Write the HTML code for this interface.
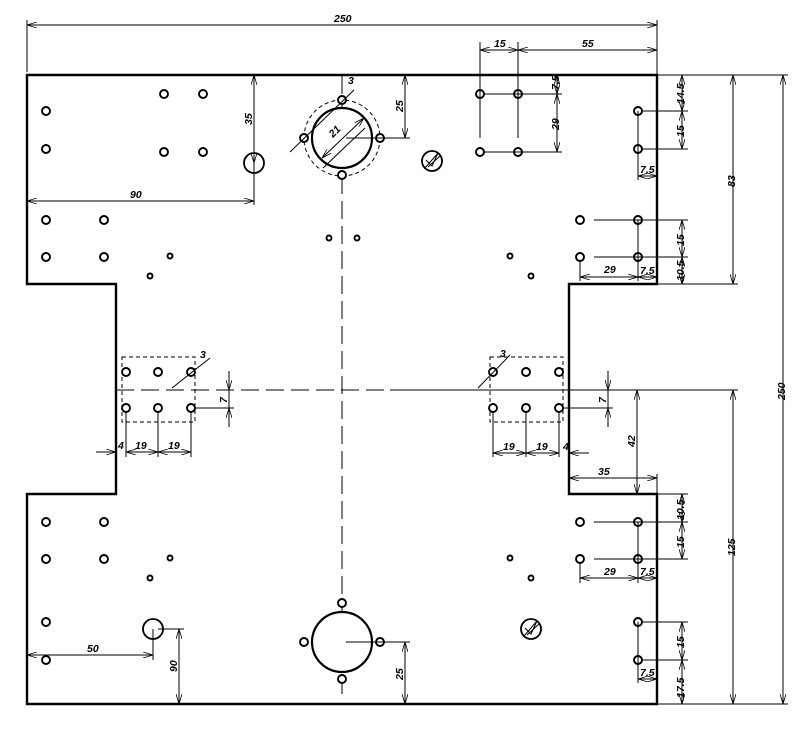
<!DOCTYPE html>
<html><head><meta charset="utf-8"><style>
html,body{margin:0;padding:0;background:#fff;}
svg{display:block;}
text{font-family:"Liberation Sans",sans-serif;font-size:10.5px;font-style:italic;fill:#000;font-weight:bold;}
</style></head><body>
<svg width="809" height="730" viewBox="0 0 809 730" xmlns="http://www.w3.org/2000/svg">
<defs>
<marker id="a" viewBox="0 0 10 6" refX="10" refY="3" markerWidth="10" markerHeight="6" markerUnits="userSpaceOnUse" orient="auto-start-reverse">
<path d="M0,0 L10,3 L0,6" fill="none" stroke="#000" stroke-width="0.8"/>
</marker>
</defs>
<path d="M27,75 H657 V284 H569 V494 H657 V704 H27 V494 H116 V284 H27 Z" fill="none" stroke="#000" stroke-width="2.4"/>
<line x1="342" y1="76" x2="342" y2="700" stroke="#000" stroke-width="1" stroke-dasharray="18,7"/>
<line x1="116" y1="390" x2="650" y2="390" stroke="#000" stroke-width="1" stroke-dasharray="18,7"/>
<g fill="none" stroke="#000" stroke-width="1">
<rect x="122" y="357" width="73" height="65" stroke-dasharray="4,3"/>
<rect x="490" y="357" width="73" height="65" stroke-dasharray="4,3"/>
<circle cx="342" cy="138" r="38" stroke-dasharray="4,3"/>
</g>
<g fill="#fff" stroke="#000" stroke-width="1.8">
<circle cx="342" cy="138" r="30" stroke-width="2.2"/>
<circle cx="342" cy="642" r="30" stroke-width="2.2"/>
<circle cx="254" cy="163" r="10"/>
<circle cx="153" cy="629" r="10"/>
<circle cx="432" cy="161" r="10"/>
<circle cx="531" cy="629" r="10"/>
</g>
<g fill="none" stroke="#000" stroke-width="1">
<path d="M425,168 L438,153 M428,167 L440,156 M426,160 L432,166 L438,153"/>
<path d="M524,636 L537,621 M527,635 L539,624 M525,628 L531,634 L537,621"/>
</g>
<g fill="#fff" stroke="#000" stroke-width="1.9">
<circle cx="46" cy="111" r="4"/><circle cx="46" cy="149" r="4"/>
<circle cx="164" cy="94" r="4"/><circle cx="203" cy="94" r="4"/>
<circle cx="164" cy="152" r="4"/><circle cx="203" cy="152" r="4"/>
<circle cx="46" cy="220" r="4"/><circle cx="104" cy="220" r="4"/>
<circle cx="46" cy="257" r="4"/><circle cx="104" cy="257" r="4"/>
<circle cx="342" cy="100" r="4"/><circle cx="304" cy="138" r="4"/>
<circle cx="380" cy="138" r="4"/><circle cx="342" cy="175" r="4"/>
<circle cx="480" cy="94" r="4"/><circle cx="518" cy="94" r="4"/>
<circle cx="480" cy="152" r="4"/><circle cx="518" cy="152" r="4"/>
<circle cx="638" cy="111" r="4"/><circle cx="638" cy="149" r="4"/>
<circle cx="580" cy="220" r="4"/><circle cx="638" cy="220" r="4"/>
<circle cx="580" cy="257" r="4"/><circle cx="638" cy="257" r="4"/>
<circle cx="126" cy="372" r="4"/><circle cx="158" cy="372" r="4"/><circle cx="191" cy="372" r="4"/>
<circle cx="126" cy="408" r="4"/><circle cx="158" cy="408" r="4"/><circle cx="191" cy="408" r="4"/>
<circle cx="493" cy="372" r="4"/><circle cx="526" cy="372" r="4"/><circle cx="559" cy="372" r="4"/>
<circle cx="493" cy="408" r="4"/><circle cx="526" cy="408" r="4"/><circle cx="559" cy="408" r="4"/>
<circle cx="46" cy="522" r="4"/><circle cx="104" cy="522" r="4"/>
<circle cx="46" cy="559" r="4"/><circle cx="104" cy="559" r="4"/>
<circle cx="46" cy="622" r="4"/><circle cx="46" cy="660" r="4"/>
<circle cx="342" cy="603" r="4"/><circle cx="304" cy="642" r="4"/>
<circle cx="380" cy="642" r="4"/><circle cx="342" cy="679" r="4"/>
<circle cx="580" cy="522" r="4"/><circle cx="638" cy="522" r="4"/>
<circle cx="580" cy="559" r="4"/><circle cx="638" cy="559" r="4"/>
<circle cx="638" cy="622" r="4"/><circle cx="638" cy="660" r="4"/>
<circle cx="170" cy="256" r="2.5"/><circle cx="150" cy="276" r="2.5"/>
<circle cx="329" cy="238" r="2.5"/><circle cx="357" cy="238" r="2.5"/>
<circle cx="510" cy="256" r="2.5"/><circle cx="531" cy="276" r="2.5"/>
<circle cx="170" cy="558" r="2.5"/><circle cx="150" cy="578" r="2.5"/>
<circle cx="510" cy="558" r="2.5"/><circle cx="531" cy="578" r="2.5"/>
</g>
<g stroke="#000" stroke-width="1" fill="none">
<line x1="27" y1="20" x2="27" y2="72"/>
<line x1="657" y1="20" x2="657" y2="75"/>
<line x1="480" y1="42" x2="480" y2="138"/>
<line x1="518" y1="42" x2="518" y2="138"/>
<line x1="657" y1="75" x2="788" y2="75"/>
<line x1="657" y1="704" x2="788" y2="704"/>
<line x1="657" y1="284" x2="738" y2="284"/>
<line x1="390" y1="390" x2="738" y2="390"/>
<line x1="484" y1="94" x2="562" y2="94"/>
<line x1="484" y1="152" x2="562" y2="152"/>
<line x1="642" y1="111" x2="688" y2="111"/>
<line x1="642" y1="149" x2="688" y2="149"/>
<line x1="594" y1="220" x2="688" y2="220"/>
<line x1="594" y1="257" x2="688" y2="257"/>
<line x1="594" y1="522" x2="688" y2="522"/>
<line x1="594" y1="559" x2="688" y2="559"/>
<line x1="642" y1="622" x2="688" y2="622"/>
<line x1="642" y1="660" x2="688" y2="660"/>
<line x1="657" y1="494" x2="688" y2="494"/>
<line x1="638" y1="111" x2="638" y2="180"/>
<line x1="638" y1="220" x2="638" y2="281"/>
<line x1="580" y1="261" x2="580" y2="281"/>
<line x1="638" y1="522" x2="638" y2="583"/>
<line x1="580" y1="563" x2="580" y2="583"/>
<line x1="638" y1="622" x2="638" y2="683"/>
<line x1="254" y1="75" x2="254" y2="205"/>
<line x1="346" y1="138" x2="410" y2="138"/>
<line x1="346" y1="642" x2="410" y2="642"/>
<line x1="158" y1="629" x2="184" y2="629"/>
<line x1="153" y1="629" x2="153" y2="660"/>
<line x1="195" y1="408" x2="234" y2="408"/>
<line x1="229" y1="371" x2="229" y2="427"/>
<line x1="563" y1="408" x2="613" y2="408"/>
<line x1="608" y1="371" x2="608" y2="427"/>
<line x1="126" y1="412" x2="126" y2="457"/>
<line x1="158" y1="412" x2="158" y2="457"/>
<line x1="191" y1="412" x2="191" y2="457"/>
<line x1="493" y1="412" x2="493" y2="457"/>
<line x1="526" y1="412" x2="526" y2="457"/>
<line x1="559" y1="412" x2="559" y2="457"/>
<line x1="657" y1="474" x2="657" y2="494"/>
<line x1="290" y1="152" x2="354" y2="90"/>
<line x1="323" y1="168" x2="365" y2="128"/>
<line x1="172" y1="388" x2="210" y2="358"/>
<line x1="478" y1="388" x2="510" y2="355"/>
</g>
<g stroke="#000" stroke-width="1" fill="none" marker-start="url(#a)" marker-end="url(#a)">
<line x1="27" y1="25" x2="657" y2="25"/>
<line x1="480" y1="50" x2="518" y2="50"/>
<line x1="518" y1="50" x2="657" y2="50"/>
<line x1="783" y1="75" x2="783" y2="704"/>
<line x1="733" y1="75" x2="733" y2="284"/>
<line x1="733" y1="390" x2="733" y2="704"/>
<line x1="637" y1="390" x2="637" y2="494"/>
<line x1="569" y1="478" x2="657" y2="478"/>
<line x1="682" y1="75" x2="682" y2="111"/>
<line x1="682" y1="111" x2="682" y2="149"/>
<line x1="682" y1="220" x2="682" y2="257"/>
<line x1="682" y1="257" x2="682" y2="284"/>
<line x1="682" y1="494" x2="682" y2="522"/>
<line x1="682" y1="522" x2="682" y2="559"/>
<line x1="682" y1="622" x2="682" y2="660"/>
<line x1="682" y1="660" x2="682" y2="704"/>
<line x1="557" y1="75" x2="557" y2="94"/>
<line x1="557" y1="94" x2="557" y2="152"/>
<line x1="638" y1="176" x2="657" y2="176"/>
<line x1="580" y1="277" x2="638" y2="277"/>
<line x1="638" y1="277" x2="657" y2="277"/>
<line x1="580" y1="578" x2="638" y2="578"/>
<line x1="638" y1="578" x2="657" y2="578"/>
<line x1="638" y1="679" x2="657" y2="679"/>
<line x1="254" y1="75" x2="254" y2="163"/>
<line x1="27" y1="201" x2="254" y2="201"/>
<line x1="405" y1="75" x2="405" y2="138"/>
<line x1="405" y1="642" x2="405" y2="704"/>
<line x1="179" y1="629" x2="179" y2="704"/>
<line x1="27" y1="655" x2="153" y2="655"/>
<line x1="126" y1="452" x2="158" y2="452"/>
<line x1="158" y1="452" x2="191" y2="452"/>
<line x1="493" y1="453" x2="526" y2="453"/>
<line x1="526" y1="453" x2="559" y2="453"/>
<line x1="322" y1="158" x2="364" y2="118"/>
</g>
<g stroke="#000" stroke-width="1" fill="none" marker-end="url(#a)">
<line x1="229" y1="371" x2="229" y2="390"/>
<line x1="229" y1="427" x2="229" y2="408"/>
<line x1="608" y1="371" x2="608" y2="390"/>
<line x1="608" y1="427" x2="608" y2="408"/>
<line x1="96" y1="452" x2="116" y2="452"/>
<line x1="589" y1="453" x2="569" y2="453"/>
</g>
<text x="334" y="22">250</text>
<text x="494" y="47">15</text>
<text x="582" y="47">55</text>
<text x="130" y="198">90</text>
<text x="87" y="652">50</text>
<text x="598" y="475">35</text>
<text x="604" y="273">29</text>
<text x="604" y="575">29</text>
<text x="640" y="173">7.5</text>
<text x="640" y="274">7.5</text>
<text x="640" y="575">7.5</text>
<text x="640" y="676">7.5</text>
<text x="118" y="449">4</text>
<text x="135" y="449">19</text>
<text x="168" y="449">19</text>
<text x="503" y="450">19</text>
<text x="536" y="450">19</text>
<text x="563" y="450">4</text>
<text x="348" y="84">3</text>
<text x="200" y="358">3</text>
<text x="500" y="357">3</text>
<text transform="translate(333,138) rotate(-45)">21</text>
<text transform="translate(252,125) rotate(-90)">35</text>
<text transform="translate(403,112) rotate(-90)">25</text>
<text transform="translate(403,680) rotate(-90)">25</text>
<text transform="translate(177,672) rotate(-90)">90</text>
<text transform="translate(227,403) rotate(-90)">7</text>
<text transform="translate(606,403) rotate(-90)">7</text>
<text transform="translate(635,447) rotate(-90)">42</text>
<text transform="translate(735,187) rotate(-90)">83</text>
<text transform="translate(735,556) rotate(-90)">125</text>
<text transform="translate(785,400) rotate(-90)">250</text>
<text transform="translate(559,90) rotate(-90)">7.5</text>
<text transform="translate(559,130) rotate(-90)">29</text>
<text transform="translate(684,104) rotate(-90)">14.5</text>
<text transform="translate(684,137) rotate(-90)">15</text>
<text transform="translate(684,246) rotate(-90)">15</text>
<text transform="translate(684,281) rotate(-90)">10.5</text>
<text transform="translate(684,520) rotate(-90)">10.5</text>
<text transform="translate(684,548) rotate(-90)">15</text>
<text transform="translate(684,648) rotate(-90)">15</text>
<text transform="translate(684,698) rotate(-90)">17.5</text>
</svg>
</body></html>
